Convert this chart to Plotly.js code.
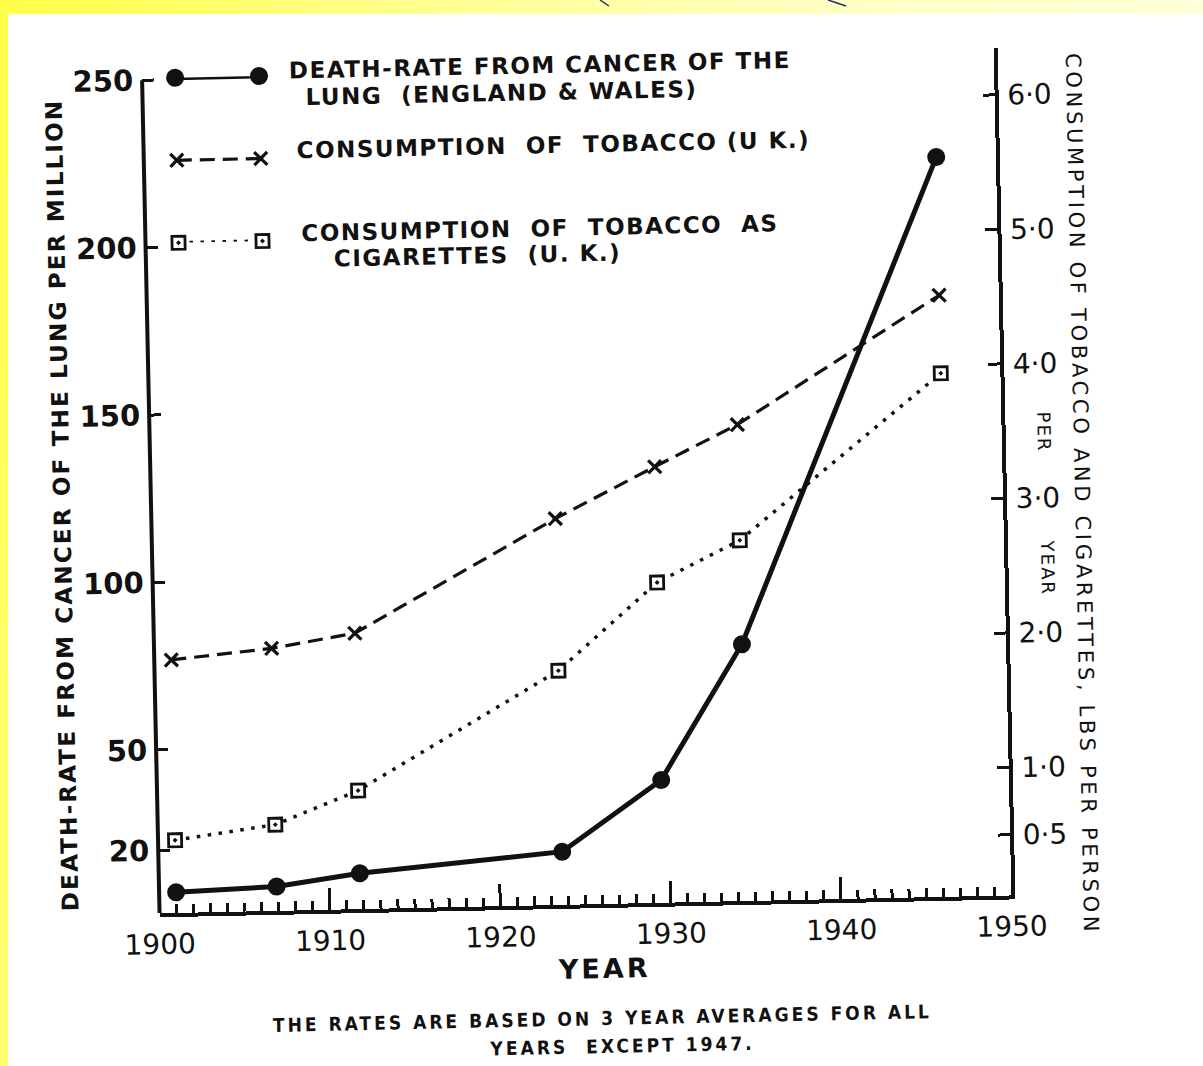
<!DOCTYPE html>
<html>
<head>
<meta charset="utf-8">
<script src="https://cdn.plot.ly/plotly-3.0.1.min.js"></script>
<style>
  html, body { margin: 0; padding: 0; background: #fff; overflow: hidden; }
  #wrap { position: absolute; left: 0; top: 0; width: 1203px; height: 1066px;
          transform: rotate(-1.2deg); transform-origin: 600px 500px; }
  #chart { width: 1203px; height: 1066px; }
  #bandTop { position: absolute; left: 0; top: 0; width: 1203px; height: 14px; z-index: 5;
             background: linear-gradient(to right, #ffff48 0%, #ffff90 35%, #ffffc4 70%, #ffffd8 100%); }
  #bandLeft { position: absolute; left: 0; top: 0; width: 8px; height: 1066px; z-index: 6;
              background: linear-gradient(to bottom, #ffff48, #ffff60 50%, #ffff70); }
  #marks { position: absolute; left: 0; top: 0; z-index: 7; }
</style>
</head>
<body>
<div id="wrap"><div id="chart"></div></div>
<div id="bandTop"></div>
<div id="bandLeft"></div>
<svg id="marks" width="1203" height="20">
  <line x1="600" y1="0" x2="609" y2="6" stroke="#23306a" stroke-width="1.5"/>
  <line x1="828" y1="0" x2="846" y2="6" stroke="#23306a" stroke-width="1.5"/>
</svg>
<script>
// Observation years (3-year averages, centred)
const years = [1901.0, 1906.9, 1911.8, 1923.7, 1929.6, 1934.5, 1946.5];
// Death-rate from cancer of the lung, England & Wales (per million)
const lungDeathRate = [7.4, 8.5, 11.9, 17.1, 37.9, 77.9, 222.1];
// Consumption of tobacco, U.K. (lbs per person per year)
const tobaccoLbs = [1.93, 2.00, 2.10, 2.92, 3.29, 3.59, 4.52];
// Consumption of tobacco as cigarettes, U.K. (lbs per person per year)
const cigaretteLbs = [0.59, 0.69, 0.93, 1.79, 2.43, 2.73, 3.94];

const leftTicks = [20, 50, 100, 150, 200, 250];
const rightTicks = [0.5, 1, 2, 3, 4, 5, 6];
const rightTickText = ['0·5', '1·0', '2·0', '3·0', '4·0', '5·0', '6·0'];

const seriesNames = [
  ['DEATH-RATE FROM CANCER OF THE', 'LUNG  (ENGLAND & WALES)'],
  ['CONSUMPTION  OF  TOBACCO (U K.)'],
  ['CONSUMPTION  OF  TOBACCO  AS', 'CIGARETTES  (U. K.)']
];
const leftTitle = 'DEATH-RATE FROM CANCER OF THE LUNG PER MILLION';
const rightTitle = 'CONSUMPTION OF TOBACCO AND CIGARETTES, LBS PER PERSON';
const xTitle = 'YEAR';
const footNote = ['THE RATES ARE BASED ON 3 YEAR AVERAGES FOR ALL', 'YEARS  EXCEPT 1947.'];

// ---- geometry helpers (pixel -> paper) ----
const W = 1203, H = 1066;
const M = { l: 151, r: 200, t: 56, b: 162 };
const PW = W - M.l - M.r, PH = H - M.t - M.b;
const px = x => (x - M.l) / PW;
const py = y => (H - M.b - y) / PH;

const FONT = 'DejaVu Sans';
const ink = '#111';

const yLeftRange = [1.22, 254.4];
const yRightRange = [0.049, 6.351];

const sp = (t, ls) => '<span style="letter-spacing:' + ls + 'px">' + t + '</span>';

const deathStyle = {
  mode: 'lines+markers',
  line: { color: ink, width: 5 },
  marker: { symbol: 'circle', size: 18, color: ink }
};
const tobaccoStyle = {
  mode: 'lines+markers',
  line: { color: ink, width: 3.2, dash: '15px,8px' },
  marker: { symbol: 'x-thin', size: 13, line: { color: ink, width: 3.2 } }
};
const cigStyle = {
  mode: 'lines+markers',
  line: { color: ink, width: 3.5, dash: '3.5px,7.5px' },
  marker: { symbol: 'square-dot', size: 13, color: '#fff', line: { color: ink, width: 2.8 } }
};

const traces = [
  Object.assign({ x: years, y: lungDeathRate, xaxis: 'x', yaxis: 'y', cliponaxis: false }, deathStyle),
  Object.assign({ x: years, y: tobaccoLbs, xaxis: 'x', yaxis: 'y2', cliponaxis: false }, tobaccoStyle),
  Object.assign({ x: years, y: cigaretteLbs, xaxis: 'x', yaxis: 'y2', cliponaxis: false }, cigStyle),
  // key samples, drawn on a small hidden subplot
  Object.assign({ x: [0, 1], y: [0, 0], xaxis: 'x3', yaxis: 'y3', cliponaxis: false }, deathStyle),
  Object.assign({ x: [0, 1], y: [1, 1], xaxis: 'x3', yaxis: 'y3', cliponaxis: false }, tobaccoStyle),
  Object.assign({ x: [0, 1], y: [2, 2], xaxis: 'x3', yaxis: 'y3', cliponaxis: false }, cigStyle)
];

function note(text, x, y, opts) {
  return Object.assign({
    text: text, xref: 'paper', yref: 'paper', x: px(x), y: py(y),
    showarrow: false, xanchor: 'left', yanchor: 'middle',
    font: { family: FONT, size: 23, color: ink, weight: 'bold' }
  }, opts || {});
}

const footFont = { family: 'DejaVu Sans Condensed', size: 19, color: ink, weight: 'bold' };
const sideFont = { family: FONT, size: 21, color: ink };

const annotations = [
  note(sp(seriesNames[0][0], 1.5), 296, 64),
  note(sp(seriesNames[0][1], 1.5), 312, 91),
  note(sp(seriesNames[1][0], 1.5), 302, 144),
  note(sp(seriesNames[2][0], 1.5), 305, 227),
  note(sp(seriesNames[2][1], 1.5), 337, 253),
  note(sp(leftTitle, 2.2), 62, 494, { xanchor: 'center', textangle: -90 }),
  note(sp(rightTitle, 3.7), 1082, 504, { xanchor: 'center', textangle: 90, font: sideFont }),
  note(sp('PER', 2), 1046, 441, { xanchor: 'center', textangle: 90,
        font: { family: FONT, size: 18, color: ink } }),
  note(sp('YEAR', 2), 1047, 577, { xanchor: 'center', textangle: 90,
        font: { family: FONT, size: 18, color: ink } }),
  note(sp(xTitle, 3), 594, 968, { xanchor: 'center',
        font: { family: FONT, size: 27, color: ink, weight: 'bold' } }),
  note(sp(footNote[0], 3), 591, 1018, { xanchor: 'center', font: footFont }),
  note(sp(footNote[1], 3), 610, 1046, { xanchor: 'center', font: footFont })
];

const layout = {
  width: W, height: H,
  margin: M,
  paper_bgcolor: 'rgba(0,0,0,0)',
  plot_bgcolor: 'rgba(0,0,0,0)',
  showlegend: false,
  font: { family: FONT, color: ink },
  xaxis: {
    range: [1900, 1950], tickmode: 'linear', tick0: 1900, dtick: 10,
    ticks: 'inside', ticklen: 22, tickwidth: 3, tickcolor: ink,
    showline: true, linewidth: 4, linecolor: ink,
    showgrid: false, zeroline: false,
    tickfont: { family: FONT, size: 28, color: ink },
    ticklabelstandoff: 3,
    minor: { tickmode: 'linear', tick0: 1900, dtick: 1, ticks: 'inside', ticklen: 9, tickwidth: 3, tickcolor: ink, showgrid: false },
    fixedrange: true
  },
  yaxis: {
    range: yLeftRange, tickmode: 'array', tickvals: leftTicks,
    ticks: 'inside', ticklen: 12, tickwidth: 3, tickcolor: ink,
    showline: false, showgrid: false, zeroline: false,
    tickfont: { family: FONT, size: 29, color: ink, weight: 'bold' },
    ticklabelstandoff: 8,
    fixedrange: true
  },
  yaxis2: {
    overlaying: 'y', side: 'right', anchor: 'x',
    range: yRightRange, tickmode: 'array', tickvals: rightTicks, ticktext: rightTickText,
    ticks: 'inside', ticklen: 12, tickwidth: 3, tickcolor: ink,
    showline: true, linewidth: 4, linecolor: ink,
    showgrid: false, zeroline: false,
    tickfont: { family: FONT, size: 28, color: ink },
    ticklabelstandoff: 3,
    fixedrange: true
  },
  xaxis3: { domain: [px(184), px(268)], anchor: 'y3', range: [0, 1], visible: false, fixedrange: true },
  yaxis3: { domain: [py(234), py(69)], anchor: 'x3', range: [2, 0], visible: false, fixedrange: true },
  shapes: [
    { type: 'line', xref: 'paper', yref: 'y', x0: 0, x1: 0, y0: yLeftRange[0], y1: 250,
      line: { color: ink, width: 4 } }
  ],
  annotations: annotations
};

Plotly.newPlot('chart', traces, layout, { staticPlot: true, displayModeBar: false });
</script>
</body>
</html>
